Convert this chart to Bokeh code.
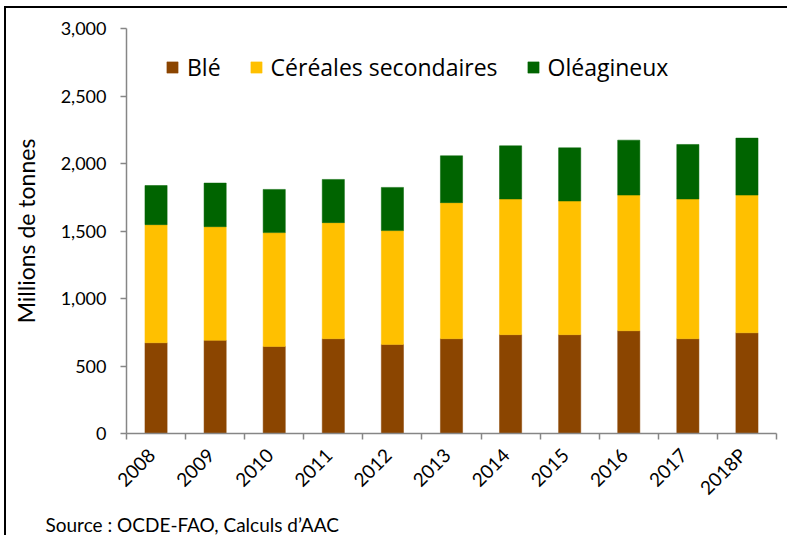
from bokeh.plotting import figure
from bokeh.models import ColumnDataSource, FixedTicker, NumeralTickFormatter, Range1d, Title
from bokeh.embed import file_html
from bokeh.resources import INLINE
from math import pi

years = ["2008", "2009", "2010", "2011", "2012", "2013", "2014", "2015", "2016", "2017", "2018P"]
ble = [672, 690, 645, 702, 660, 702, 732, 732, 761, 702, 746]
cereales = [875, 842, 843, 860, 843, 1008, 1005, 990, 1005, 1035, 1020]
oleagineux = [290, 323, 320, 320, 320, 347, 394, 394, 407, 404, 422]

series = ["ble", "cereales", "oleagineux"]
labels = ["Blé", "Céréales secondaires", "Oléagineux"]
colors = ["#8B4500", "#FFC000", "#006400"]

xpos = [i + 0.5 for i in range(len(years))]
src = ColumnDataSource(dict(x=xpos, ble=ble, cereales=cereales, oleagineux=oleagineux))

FONT = "Lato"

p = figure(frame_width=650, frame_height=405, output_backend="svg", toolbar_location=None,
           x_range=Range1d(0, len(years)), y_range=Range1d(0, 3000),
           min_border_left=120, min_border_right=11, min_border_top=20, min_border_bottom=0)
p.styles = {"border-left": "2px solid black", "border-top": "2px solid black",
            "margin-left": "4px", "margin-top": "6px"}

p.vbar_stack(series, x="x", width=0.375, source=src, color=colors,
             line_width=0.5, legend_label=labels)

p.xgrid.visible = False
p.ygrid.visible = False
p.outline_line_color = None

# y axis
yax = p.yaxis[0]
yax.ticker = FixedTicker(ticks=[0, 500, 1000, 1500, 2000, 2500, 3000])
yax.formatter = NumeralTickFormatter(format="0,0")
yax.axis_line_color = "#868686"
yax.axis_line_width = 1.5
yax.major_tick_line_color = "#868686"
yax.major_tick_line_width = 1.5
yax.major_tick_out = 6
yax.major_tick_in = 0
yax.minor_tick_line_color = None
yax.major_label_text_font = FONT
yax.major_label_text_font_size = "18px"
yax.major_label_text_color = "black"
yax.major_label_standoff = 14
yax.axis_label = "Millions de tonnes"
yax.axis_label_text_font = FONT
yax.axis_label_text_font_size = "23px"
yax.axis_label_text_font_style = "normal"
yax.axis_label_text_color = "black"
yax.axis_label_standoff = 18

# x axis (ticks at category edges, labels under bars)
label_pos = [x - 0.08 for x in xpos]
xax = p.xaxis[0]
xax.ticker = FixedTicker(ticks=label_pos, minor_ticks=list(range(len(years) + 1)))
xax.major_label_overrides = {x: y for x, y in zip(label_pos, years)}
xax.axis_line_color = "#868686"
xax.axis_line_width = 1.5
xax.major_tick_line_color = None
xax.minor_tick_line_color = "#868686"
xax.minor_tick_line_width = 1.5
xax.minor_tick_out = 6
xax.minor_tick_in = 0
xax.major_label_orientation = pi / 4
xax.major_label_text_font = FONT
xax.major_label_text_font_size = "19px"
xax.major_label_text_color = "black"
xax.major_label_standoff = 12

# legend
leg = p.legend[0]
leg.orientation = "horizontal"
leg.location = (39, 350)
leg.label_text_font = "Open Sans"
leg.label_text_font_size = "23px"
leg.label_text_color = "black"
leg.glyph_width = 14
leg.glyph_height = 14
leg.spacing = 28
leg.label_standoff = 8
leg.border_line_color = None
leg.background_fill_alpha = 0

src_title = Title(text="Source : OCDE-FAO, Calculs d\u2019AAC", align="left", offset=-81,
                  text_font=FONT, text_font_size="19px", text_font_style="normal",
                  text_color="black", standoff=0)
p.add_layout(src_title, "below")

open("out.html", "w").write(file_html(p, INLINE))
